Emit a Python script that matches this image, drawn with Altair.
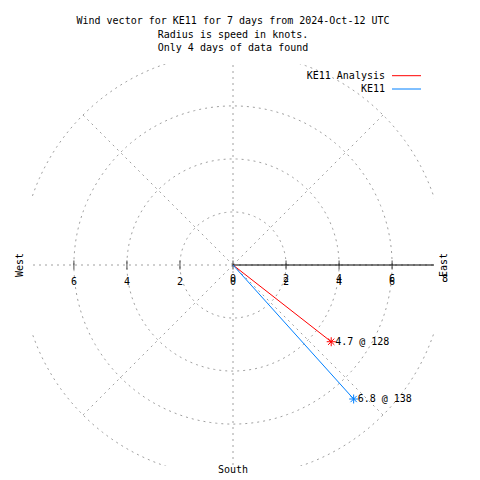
import altair as alt
import pandas as pd
import numpy as np

# ---- data ----
series = ["KE11 Analysis", "KE11"]
speeds = [4.7, 6.8]
directions = [128, 138]
colors = ["#ff0000", "#0080ff"]
title_lines = [
    "Wind vector for KE11 for 7 days from 2024-Oct-12 UTC",
    "Radius is speed in knots.",
    "Only 4 days of data found",
]
ring_radii = [2, 4, 6, 8]
spoke_angles = [0, 45, 90, 135, 180, 225, 270, 315]
x_tick_values = [-6, -4, -2, 0, 2, 4, 6]
r_tick_values = [0, 2, 4, 6, 8]
tick_marks = [-6, -4, -2, 0, 2, 4, 6]
compass_names = ["West", "South", "East"]
LIM = 7.58
FONT = "DejaVu Sans Mono"
W = 402

xs = alt.Scale(domain=[-LIM, LIM], nice=False, zero=False)
ys = alt.Scale(domain=[-LIM, LIM], nice=False, zero=False)

def X(f):
    return alt.X(f, type="quantitative", scale=xs, axis=None)

def Y(f):
    return alt.Y(f, type="quantitative", scale=ys, axis=None)

# rings
rows = []
for r in ring_radii:
    for i, a in enumerate(range(0, 361, 2)):
        t = np.radians(a)
        rows.append({"r": r, "i": i, "x": r * np.cos(t), "y": r * np.sin(t)})
rings = pd.DataFrame(rows)

spokes = pd.DataFrame({
    "x0": 0.0, "y0": 0.0,
    "x": [8 * np.cos(np.radians(a)) for a in spoke_angles],
    "y": [8 * np.sin(np.radians(a)) for a in spoke_angles],
})

axis_df = pd.DataFrame({"x0": [0.0], "y0": [0.0], "x": [LIM], "y": [0.0]})
ticks_df = pd.DataFrame({"x": tick_marks, "y": 0.0})
xlab_df = pd.DataFrame({"x": x_tick_values, "y": 0.0, "lab": [str(abs(v)) for v in x_tick_values]})
rlab_df = pd.DataFrame({"x": r_tick_values, "y": 0.0, "lab": [str(v) for v in r_tick_values]})

vec = pd.DataFrame({"series": series, "speed": speeds, "dir": directions})
vec["x"] = vec["speed"] * np.sin(np.radians(vec["dir"]))
vec["y"] = vec["speed"] * np.cos(np.radians(vec["dir"]))
vec["x0"] = 0.0
vec["y0"] = 0.0
vec["label"] = [f"{s} @ {d}" for s, d in zip(speeds, directions)]

color = alt.Color("series:N", scale=alt.Scale(domain=series, range=colors), legend=None)

grid_style = dict(color="#a0a0a0", strokeWidth=1, strokeDash=[2, 4], clip=True)

rings_layer = alt.Chart(rings).mark_line(**grid_style).encode(
    x=X("x"), y=Y("y"), detail="r:N", order="i:Q")
spokes_layer = alt.Chart(spokes).mark_rule(**grid_style).encode(
    x=X("x0"), y=Y("y0"), x2="x:Q", y2="y:Q")
axis_layer = alt.Chart(axis_df).mark_rule(color="black", strokeWidth=1).encode(
    x=X("x0"), y=Y("y0"), x2="x:Q", y2="y:Q")
ticks_layer = alt.Chart(ticks_df).mark_tick(
    orient="vertical", size=9, thickness=1, color="black").encode(x=X("x"), y=Y("y"))
xlab_layer = alt.Chart(xlab_df).mark_text(
    font=FONT, fontSize=10, dy=17, baseline="middle", color="black").encode(
    x=X("x"), y=Y("y"), text="lab:N")
rlab_layer = alt.Chart(rlab_df).mark_text(
    font=FONT, fontSize=10, dy=14, baseline="middle", color="black").encode(
    x=X("x"), y=Y("y"), text="lab:N")

vec_layer = alt.Chart(vec).mark_rule(strokeWidth=1).encode(
    x=X("x0"), y=Y("y0"), x2="x:Q", y2="y:Q", color=color)
star_path = "M-1,0L1,0M0,-1L0,1M-0.7,-0.7L0.7,0.7M-0.7,0.7L0.7,-0.7"
star_layer = alt.Chart(vec).mark_point(
    shape=star_path, size=81, filled=False, strokeWidth=1, opacity=1).encode(
    x=X("x"), y=Y("y"), color=color)
vlab_layer = alt.Chart(vec).mark_text(
    font=FONT, fontSize=10, align="left", dx=4, baseline="middle", color="black").encode(
    x=X("x"), y=Y("y"), text="label:N")

layers = [rings_layer, spokes_layer, axis_layer, ticks_layer, xlab_layer, rlab_layer,
          vec_layer, star_layer, vlab_layer]

# compass labels
compass_pos = {"West": (-12, 201, 270), "South": (201, 406, 0), "East": (412, 201, 270)}
for name in compass_names:
    px, py, ang = compass_pos[name]
    layers.append(
        alt.Chart(pd.DataFrame({"t": [name]})).mark_text(
            font=FONT, fontSize=10, baseline="middle", align="center",
            angle=ang, color="black").encode(
            x=alt.value(px), y=alt.value(py), text="t:N"))

# gnuplot-style key: label, then line sample
for i, (s, c) in enumerate(zip(series, colors)):
    yy = 11.7 + 13.3 * i
    df = pd.DataFrame({"t": [s]})
    layers.append(
        alt.Chart(df).mark_text(font=FONT, fontSize=10, align="right",
                                baseline="middle", color="black").encode(
            x=alt.value(353), y=alt.value(yy), text="t:N"))
    layers.append(
        alt.Chart(df).mark_rule(strokeWidth=1).encode(
            x=alt.value(360), x2=alt.value(389), y=alt.value(yy), color=alt.value(c)))

chart = alt.layer(*layers).properties(
    width=W, height=W,
    background="white",
    title=alt.Title(title_lines, font=FONT, fontSize=10, fontWeight="normal",
                    anchor="middle", offset=11, lineHeight=13.5, color="black"),
    autosize=alt.AutoSizeParams(type="none"),
    padding={"left": 24, "top": 56, "right": 38, "bottom": 16},
).configure_view(stroke=None, strokeWidth=0)

chart.save("out.html", embed_options={"renderer": "svg", "actions": False})
